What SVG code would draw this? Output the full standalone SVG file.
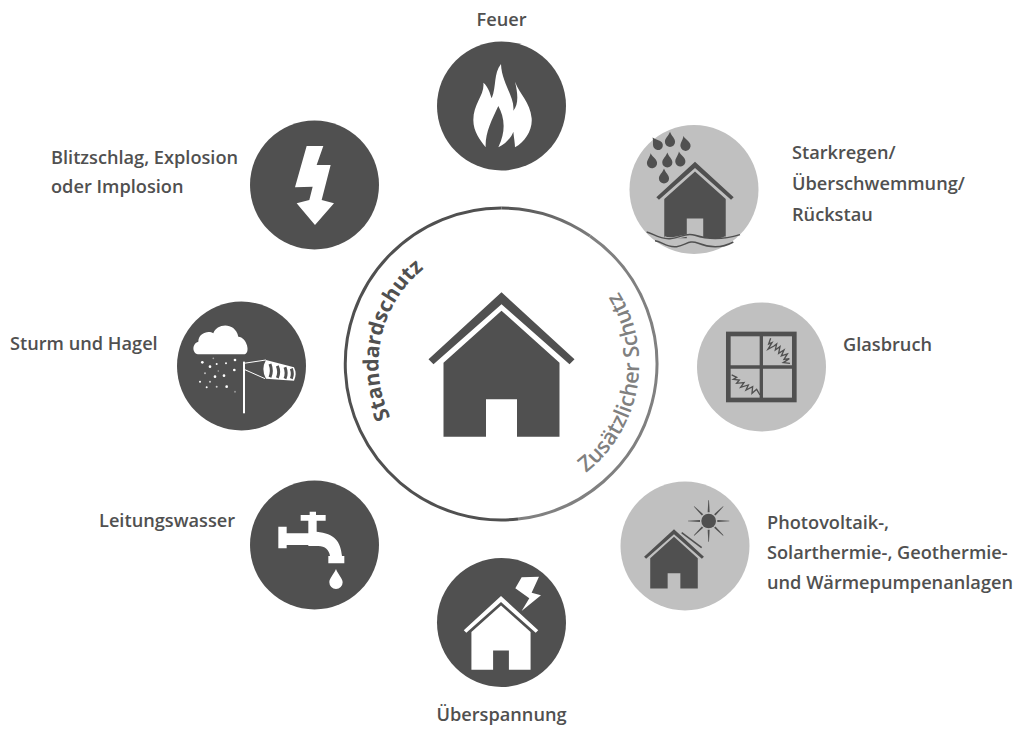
<svg xmlns="http://www.w3.org/2000/svg" xmlns:xlink="http://www.w3.org/1999/xlink" width="1018" height="729" viewBox="0 0 1018 729">
<style>
.lbl{font-family:"Open Sans","Liberation Sans",sans-serif;font-weight:600;font-size:18.2px;fill:#505050}
.arc{font-family:"Open Sans","Liberation Sans",sans-serif;font-weight:700;font-size:21px}
.arc2{font-family:"Open Sans","Liberation Sans",sans-serif;font-weight:600;font-size:21.7px}
.d{fill:#505050}.l{fill:#c0c0c0}.w{fill:#fff}
</style>
<defs>
<path id="house" fill-rule="evenodd" d="M0 0L73 67L68 72L0 12L-68 72L-73 67ZM0 18.4L58 70.4V144.4H15.5V107H-15.5V144.4H-58V70.4ZM0 0"/>
<path id="drop" d="M0-24C5-10 16-4 16 8A16 16 0 0 1-16 8C-16-4-5-10 0-24Z"/>
<path id="ray" d="M-3 -26H3L1 -62H-1Z"/>
<linearGradient id="fade" gradientUnits="userSpaceOnUse" x1="500" y1="0" x2="600" y2="0"><stop offset="0" stop-color="#505050"/><stop offset="1" stop-color="#808080"/></linearGradient>
</defs>
<g id="connectors" fill="none" stroke-width="3">
<path stroke="#808080" d="M518 519.1A156 156 0 0 0 590 236"/>
<path stroke="url(#fade)" d="M501.5 208A156 156 0 0 1 590 236"/>
<path stroke="#505050" d="M518 519.1A156 156 0 1 1 501.5 208"/>
</g>
<g id="center">
<use href="#house" class="d" transform="translate(501.5,292.3)"/>
<path id="p1" fill="none" d="M444.5 473A123 123 0 0 1 496.3 241.1"/>
<path id="p2" fill="none" d="M517 501A138 138 0 0 0 564 241"/>
<text class="arc" fill="#505050" text-anchor="middle"><textPath href="#p1" startOffset="50%">Standardschutz</textPath></text>
<text class="arc2" fill="#808080" text-anchor="middle"><textPath href="#p2" startOffset="50%">Zusätzlicher Schutz</textPath></text>
</g>
<g id="feuer">
<circle class="d" cx="501.5" cy="106" r="64.5"/>
<g transform="translate(430,30) scale(.3333)">
<path class="w" d="M213 102C190 130 200 170 185 205C180 190 175 170 160 158C165 195 130 220 130 270C130 305 150 330 167 352C165 310 185 270 205 228C222 260 230 300 205 352C230 340 245 320 250 305C252 325 255 340 255 352C285 335 308 300 305 265C300 215 270 195 255 155C265 195 265 225 250 242C255 200 215 160 213 102Z"/>
</g>
<text class="lbl" x="501.5" y="26" text-anchor="middle">Feuer</text>
</g>
<g id="starkregen">
<circle class="l" cx="694" cy="189.5" r="64.5"/>
<use href="#house" class="d" transform="translate(695,161.7) scale(.53)"/>
<g transform="translate(620,120) scale(.3333)">
<use href="#drop" class="d" transform="translate(110,70) rotate(-35) scale(.9)"/>
<use href="#drop" class="d" transform="translate(150,58) scale(.95)"/>
<use href="#drop" class="d" transform="translate(195,70) rotate(-12) scale(.95)"/>
<use href="#drop" class="d" transform="translate(95,122) rotate(-8) scale(.95)"/>
<use href="#drop" class="d" transform="translate(142,120) scale(.95)"/>
<use href="#drop" class="d" transform="translate(180,117) rotate(-8) scale(.95)"/>
<use href="#drop" class="d" transform="translate(132,168) scale(.95)"/>
<g fill="none">
<path stroke="#c0c0c0" stroke-width="7" d="M133 352C160 366 190 338 225 348S290 366 318 352M133 372C160 384 195 360 230 372S290 386 318 372"/>
<path stroke="#505050" stroke-width="4.5" d="M80 336C100 340 115 358 150 356S195 336 225 346S300 362 360 344M105 362C125 364 140 384 170 380S205 358 235 370S300 388 340 366"/>
</g>
</g>
<g class="lbl"><text x="792" y="159">Starkregen/</text><text x="792" y="190">Überschwemmung/</text><text x="792" y="221">Rückstau</text></g>
</g>
<g id="glasbruch">
<circle class="l" cx="761.5" cy="367" r="64.5"/>
<g transform="translate(620,120) scale(.3333)">
<rect x="325" y="642" width="198" height="198" fill="none" stroke="#505050" stroke-width="14"/>
<path fill="none" stroke="#505050" stroke-width="10" d="M424 642V840M325 741H523"/>
<path fill="none" stroke="#505050" stroke-width="4" d="M452 655L446 672L456 668L444 688L462 678L470 672L466 690L480 680L476 700L492 690L484 708L502 702L492 718L508 716L490 728L510 730M335 765L350 772L340 778L358 780L350 790L372 788L362 802L385 795L378 810L398 800L396 820L410 808L420 825"/>
</g>
<text class="lbl" x="843" y="351">Glasbruch</text>
</g>
<g id="photovoltaik">
<circle class="l" cx="685" cy="546" r="64.5"/>
<use href="#house" class="d" transform="translate(674,529.3) scale(.41)"/>
<g transform="translate(610,470) scale(.3333)">
<path fill="none" stroke="#505050" stroke-width="5" d="M215 188L275 233"/>
<circle class="d" cx="296" cy="153" r="22"/>
<g class="d" transform="translate(296,153)">
<use href="#ray"/><use href="#ray" transform="rotate(45)"/><use href="#ray" transform="rotate(90)"/><use href="#ray" transform="rotate(135)"/><use href="#ray" transform="rotate(180)"/><use href="#ray" transform="rotate(225)"/><use href="#ray" transform="rotate(270)"/><use href="#ray" transform="rotate(315)"/>
</g>
</g>
<g class="lbl"><text x="767" y="529">Photovoltaik-,</text><text x="767" y="559">Solarthermie-, Geothermie-</text><text x="767" y="589">und Wärmepumpenanlagen</text></g>
</g>
<g id="ueberspannung">
<circle class="d" cx="501.5" cy="622.5" r="64.5"/>
<use href="#house" class="w" transform="translate(501,596) scale(.51)"/>
<g transform="translate(240,470) scale(.3333)">
<path class="w" d="M845 322L897 320L875 368L903 376L845 423L868 385L826 355Z"/>
</g>
<text class="lbl" x="501.5" y="721" text-anchor="middle">Überspannung</text>
</g>
<g id="leitungswasser">
<circle class="d" cx="314.5" cy="545" r="64.5"/>
<g transform="translate(240,470) scale(.3333)">
<path class="w" d="M115 170H140V190H205V152H182V135H209V125H228V135H257V152H230V185C285 190 302 215 306 258H313V280H265V258H270C268 240 255 228 235 228H205V225H140V235H115Z"/>
<path class="w" d="M288 297C295 315 308 325 308 337A20 20 0 0 1 268 337C268 325 280 315 288 297Z"/>
</g>
<text class="lbl" x="99" y="527">Leitungswasser</text>
</g>
<g id="sturm">
<circle class="d" cx="241.5" cy="366" r="64.5"/>
<g transform="translate(170,110) scale(.3333)">
<path class="w" d="M88 733C65 733 65 700 85 695C85 670 115 660 130 670C140 640 195 635 205 680C230 680 245 733 220 733Z"/>
<g class="w">
<circle cx="97" cy="757" r="4"/><circle cx="120" cy="770" r="4"/><circle cx="140" cy="762" r="3"/><circle cx="168" cy="760" r="3"/><circle cx="195" cy="750" r="4"/><circle cx="193" cy="780" r="4"/><circle cx="130" cy="745" r="2.5" opacity=".5"/><circle cx="105" cy="790" r="3" opacity=".6"/><circle cx="135" cy="800" r="4"/><circle cx="162" cy="797" r="4"/><circle cx="90" cy="815" r="3"/><circle cx="120" cy="815" r="3" opacity=".7"/><circle cx="110" cy="832" r="3"/><circle cx="140" cy="830" r="3" opacity=".7"/><circle cx="170" cy="830" r="4"/><circle cx="195" cy="845" r="3" opacity=".4"/><circle cx="145" cy="783" r="2.5" opacity=".5"/>
</g>
<path fill="none" stroke="#fff" stroke-width="6" d="M222 755V910"/>
<path fill="none" stroke="#fff" stroke-width="3" d="M222 760L288 750M222 778L285 806"/>
<path class="w" d="M288 750L372 772Q382 792 372 812L288 806Q272 778 288 750Z"/>
<path fill="none" stroke="#505050" stroke-width="9" d="M300 762Q308 782 300 802M322 768Q330 786 322 804M345 772Q352 790 345 806M364 776Q370 792 364 806"/>
</g>
<text class="lbl" x="10" y="350">Sturm und Hagel</text>
</g>
<g id="blitzschlag">
<circle class="d" cx="314.5" cy="185" r="64.5"/>
<g transform="translate(170,110) scale(.3333)">
<path class="w" d="M410 108H460L440 165H482L455 270L492 280L435 345L380 280L418 270L428 230L375 232Z"/>
</g>
<g class="lbl"><text x="51" y="164">Blitzschlag, Explosion</text><text x="51" y="193">oder Implosion</text></g>
</g>
</svg>
